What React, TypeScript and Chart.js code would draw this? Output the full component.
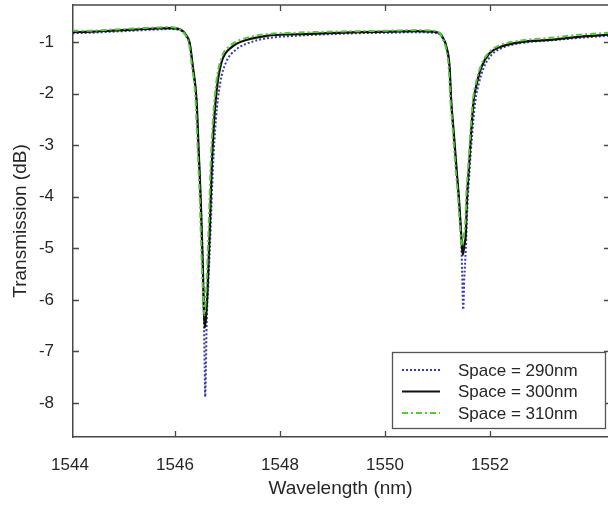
import React, { useEffect, useRef } from "react";
import { Chart, registerables } from "chart.js";

Chart.register(...registerables);

// ---- data ----
const xTickValues = [1544, 1546, 1548, 1550, 1552];
const yTickValues = [-8, -7, -6, -5, -4, -3, -2, -1];
const xMin = 1544.057;
const xMax = 1554.248;
const yMin = -8.659;
const yMax = -0.283;

const seriesNames = ["Space = 290nm", "Space = 300nm", "Space = 310nm"];

const wl290 = [1544.05, 1544.4, 1544.8, 1545.2, 1545.6, 1545.9, 1546.05, 1546.15, 1546.22, 1546.28, 1546.34, 1546.41, 1546.45, 1546.49, 1546.53, 1546.55, 1546.565, 1546.575, 1546.59, 1546.6, 1546.64, 1546.68, 1546.72, 1546.78, 1546.86, 1546.97, 1547.16, 1547.46, 1547.8, 1548.3, 1548.9, 1549.5, 1550.1, 1550.6, 1550.9, 1551.04, 1551.12, 1551.17, 1551.23, 1551.26, 1551.31, 1551.36, 1551.41, 1551.45, 1551.47, 1551.49, 1551.51, 1551.54, 1551.57, 1551.61, 1551.66, 1551.72, 1551.79, 1551.88, 1552.03, 1552.22, 1552.6, 1553.14, 1553.7, 1554.25];
const tr290 = [-0.83, -0.82, -0.8, -0.78, -0.76, -0.75, -0.76, -0.8, -0.9, -1.05, -1.5, -2.15, -3.1, -4.1, -5.3, -6.3, -7.3, -7.88, -7.3, -6.6, -5.6, -4.6, -3.5, -2.5, -1.8, -1.4, -1.15, -1.0, -0.92, -0.88, -0.85, -0.83, -0.82, -0.81, -0.82, -0.85, -0.97, -1.1, -1.5, -2.15, -2.8, -3.45, -4.1, -4.8, -5.5, -6.19, -5.6, -5.0, -4.2, -3.5, -2.8, -2.15, -1.8, -1.5, -1.25, -1.12, -1.02, -0.97, -0.92, -0.88];

const wl300 = [1544.05, 1544.4, 1544.8, 1545.2, 1545.6, 1545.9, 1546.05, 1546.15, 1546.22, 1546.28, 1546.34, 1546.41, 1546.45, 1546.49, 1546.53, 1546.55, 1546.57, 1546.6, 1546.62, 1546.66, 1546.7, 1546.75, 1546.81, 1546.9, 1547.08, 1547.36, 1547.75, 1548.3, 1548.9, 1549.5, 1550.1, 1550.6, 1550.9, 1551.04, 1551.12, 1551.17, 1551.23, 1551.26, 1551.31, 1551.36, 1551.41, 1551.45, 1551.48, 1551.51, 1551.54, 1551.56, 1551.6, 1551.64, 1551.69, 1551.75, 1551.84, 1551.99, 1552.18, 1552.6, 1553.14, 1553.7, 1554.25];
const tr300 = [-0.81, -0.8, -0.78, -0.76, -0.74, -0.73, -0.74, -0.79, -0.88, -1.02, -1.48, -2.12, -3.09, -4.06, -5.36, -6.2, -6.54, -6.2, -5.8, -4.7, -3.42, -2.45, -1.8, -1.35, -1.1, -0.96, -0.88, -0.85, -0.83, -0.81, -0.8, -0.79, -0.8, -0.83, -0.95, -1.09, -1.48, -2.12, -2.76, -3.42, -4.06, -4.7, -5.13, -4.95, -4.7, -4.06, -3.42, -2.76, -2.12, -1.8, -1.48, -1.22, -1.1, -1.0, -0.96, -0.9, -0.86];

const wl310 = [1544.05, 1544.4, 1544.8, 1545.2, 1545.6, 1545.9, 1546.03, 1546.13, 1546.2, 1546.26, 1546.32, 1546.39, 1546.43, 1546.47, 1546.51, 1546.54, 1546.56, 1546.585, 1546.6, 1546.64, 1546.68, 1546.73, 1546.79, 1546.88, 1547.05, 1547.33, 1547.72, 1548.3, 1548.9, 1549.5, 1550.1, 1550.6, 1550.9, 1551.02, 1551.1, 1551.15, 1551.21, 1551.245, 1551.29, 1551.34, 1551.39, 1551.43, 1551.465, 1551.5, 1551.53, 1551.55, 1551.59, 1551.63, 1551.68, 1551.74, 1551.83, 1551.98, 1552.17, 1552.6, 1553.14, 1553.7, 1554.25];
const tr310 = [-0.78, -0.78, -0.76, -0.74, -0.72, -0.71, -0.73, -0.78, -0.87, -1.0, -1.45, -2.1, -3.05, -4.0, -5.3, -6.0, -6.3, -6.0, -5.7, -4.6, -3.35, -2.4, -1.75, -1.32, -1.07, -0.93, -0.85, -0.82, -0.8, -0.79, -0.78, -0.77, -0.78, -0.81, -0.93, -1.07, -1.45, -2.1, -2.7, -3.4, -4.0, -4.6, -4.95, -4.75, -4.5, -3.95, -3.35, -2.7, -2.08, -1.76, -1.45, -1.2, -1.07, -0.97, -0.92, -0.86, -0.82];

const FONT = "'Liberation Sans', Arial, Helvetica, sans-serif";
const AXIS_COLOR = "#474747";
const TEXT_COLOR = "#262626";

const toPoints = (xs: number[], ys: number[]) => xs.map((x, i) => ({ x, y: ys[i] }));

const styles = [
  { color: "#3a3aa8", width: 2, dash: [2, 2] },
  { color: "#111111", width: 2.2, dash: [] as number[] },
  { color: "#55c93c", width: 2, dash: [6, 3, 2, 3] },
];

const framePlugin = {
  id: "frameTicks",
  afterDraw(chart: any) {
    const { ctx, chartArea: a, scales } = chart;
    const xs = scales.x;
    const ys = scales.y;
    ctx.save();
    ctx.strokeStyle = AXIS_COLOR;
    ctx.lineWidth = 1.5;
    ctx.beginPath();
    ctx.moveTo(a.left, a.top);
    ctx.lineTo(a.right, a.top);
    ctx.stroke();
    ctx.lineWidth = 1.3;
    ctx.beginPath();
    for (const v of xTickValues) {
      if (v < xMin || v > xMax) continue;
      const x = Math.round(xs.getPixelForValue(v)) + 0.5;
      ctx.moveTo(x, a.bottom);
      ctx.lineTo(x, a.bottom - 6);
      ctx.moveTo(x, a.top);
      ctx.lineTo(x, a.top + 6);
    }
    for (const v of yTickValues) {
      const y = Math.round(ys.getPixelForValue(v)) + 0.5;
      ctx.moveTo(a.left, y);
      ctx.lineTo(a.left + 6, y);
      ctx.moveTo(a.right + 2, y);
      ctx.lineTo(a.right - 4, y);
    }
    ctx.stroke();

    // legend box
    const bx = 392, by = 352, bw = 213, bh = 76;
    ctx.fillStyle = "#ffffff";
    ctx.fillRect(bx, by, bw, bh);
    ctx.strokeStyle = "#555555";
    ctx.lineWidth = 1.3;
    ctx.strokeRect(bx + 0.5, by + 0.5, bw, bh);
    ctx.font = `17px ${FONT}`;
    ctx.textBaseline = "middle";
    ctx.textAlign = "left";
    const rows = [370, 391.5, 413];
    seriesNames.forEach((name, i) => {
      const s = styles[i];
      ctx.strokeStyle = s.color;
      ctx.lineWidth = s.width;
      ctx.setLineDash(s.dash);
      ctx.beginPath();
      ctx.moveTo(402, rows[i]);
      ctx.lineTo(440, rows[i]);
      ctx.stroke();
      ctx.setLineDash([]);
      ctx.fillStyle = TEXT_COLOR;
      ctx.fillText(name, 458, rows[i] + 1);
    });
    ctx.restore();
  },
};

export default function App() {
  const ref = useRef<HTMLCanvasElement>(null);
  useEffect(() => {
    if (!ref.current) return;
    const data = [toPoints(wl290, tr290), toPoints(wl300, tr300), toPoints(wl310, tr310)];
    const chart = new Chart(ref.current, {
      type: "line",
      data: {
        datasets: seriesNames.map((name, i) => ({
          label: name,
          data: data[i],
          borderColor: styles[i].color,
          borderWidth: styles[i].width,
          borderDash: styles[i].dash,
          pointRadius: 0,
          fill: false,
          cubicInterpolationMode: "monotone" as const,
          order: 2 - i,
        })),
      },
      options: {
        responsive: false,
        animation: false,
        devicePixelRatio: 1,
        layout: { padding: { top: 5, right: 0, left: 0, bottom: 0 } },
        plugins: { legend: { display: false }, tooltip: { enabled: false } },
        scales: {
          x: {
            type: "linear",
            min: xMin,
            max: xMax,
            afterBuildTicks: (s: any) => {
              s.ticks = xTickValues.map((v) => ({ value: v }));
            },
            afterFit: (s: any) => {
              s.height = 68;
              s.paddingLeft = 0;
              s.paddingRight = 0;
              s.paddingTop = 0;
              s.paddingBottom = 0;
            },
            grid: { display: false },
            border: { display: true, color: AXIS_COLOR, width: 1.5 },
            ticks: {
              autoSkip: false,
              maxRotation: 0,
              padding: 10,
              color: TEXT_COLOR,
              font: { family: FONT, size: 17 },
              callback: (v: any) => String(v),
            },
            title: {
              display: true,
              text: "Wavelength (nm)",
              color: TEXT_COLOR,
              font: { family: FONT, size: 19 },
              padding: { top: 0, bottom: 5 },
            },
          },
          y: {
            type: "linear",
            min: yMin,
            max: yMax,
            afterBuildTicks: (s: any) => {
              s.ticks = yTickValues.map((v) => ({ value: v }));
            },
            afterFit: (s: any) => {
              s.width = 73;
              s.paddingLeft = 0;
              s.paddingRight = 0;
              s.paddingTop = 0;
              s.paddingBottom = 0;
            },
            grid: { display: false },
            border: { display: true, color: AXIS_COLOR, width: 1.5 },
            ticks: {
              autoSkip: false,
              padding: 11,
              color: TEXT_COLOR,
              font: { family: FONT, size: 17 },
              callback: (v: any) => String(v),
            },
            title: {
              display: true,
              text: "Transmission (dB)",
              color: TEXT_COLOR,
              font: { family: FONT, size: 19 },
              padding: { top: 9, bottom: 0 },
            },
          },
        },
      },
      plugins: [framePlugin],
    });
    return () => chart.destroy();
  }, []);
  return (
    <div style={{ position: "fixed", left: 0, top: 0, width: 608, height: 505, background: "#fff" }}>
      <canvas ref={ref} width={608} height={505} style={{ display: "block" }} />
    </div>
  );
}
